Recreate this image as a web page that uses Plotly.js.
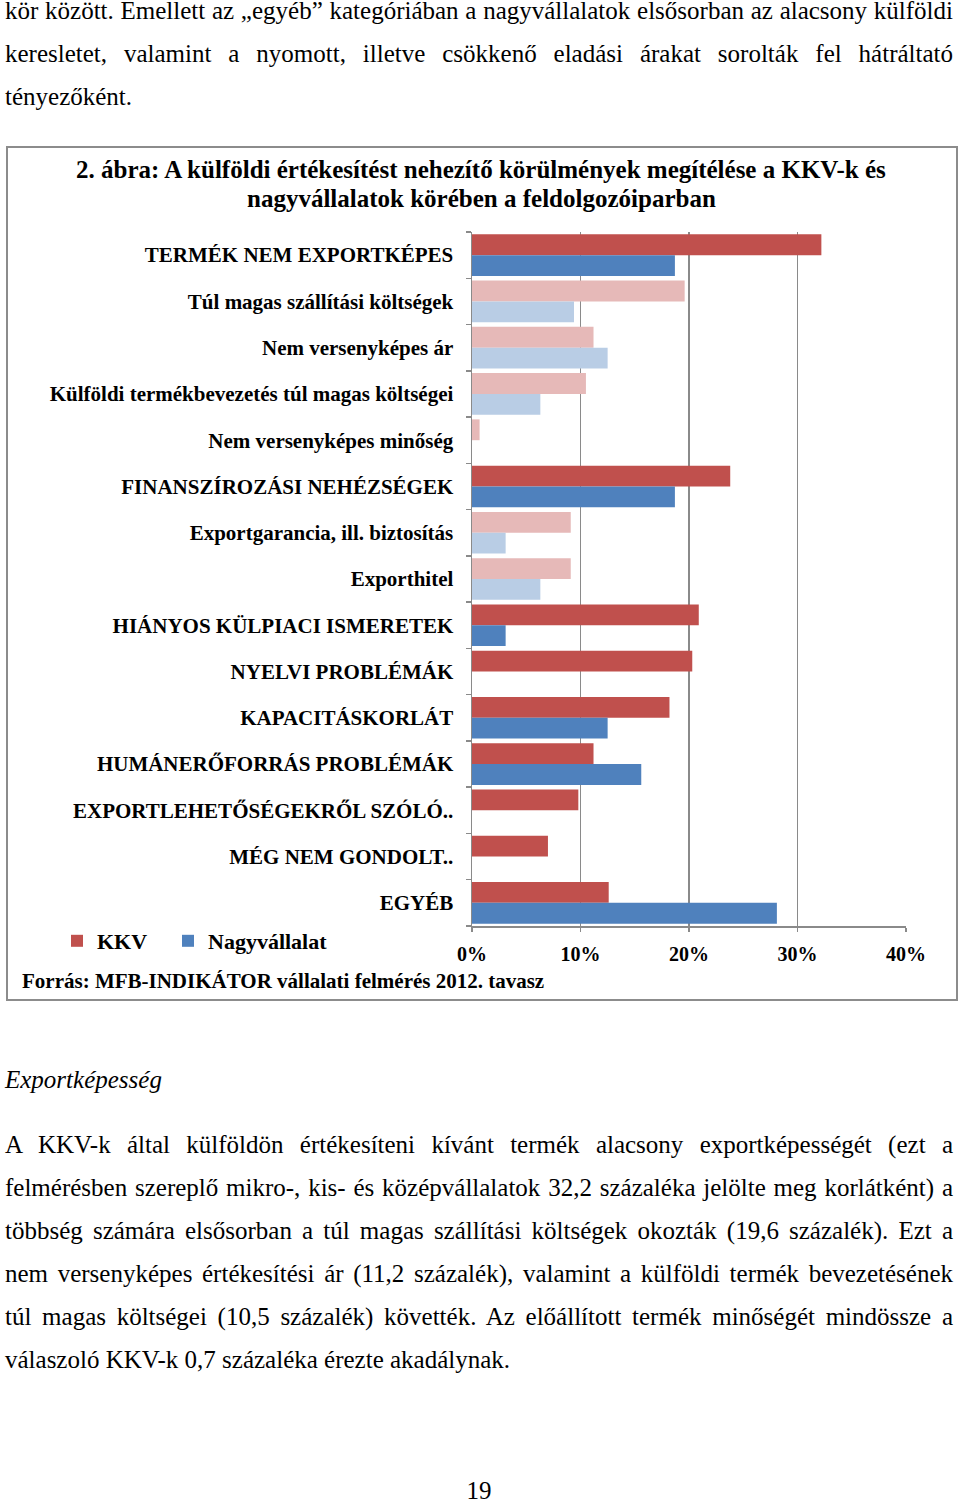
<!DOCTYPE html>
<html>
<head>
<meta charset="utf-8">
<script src="https://cdn.plot.ly/plotly-3.0.1.min.js"></script>
<style>
  html, body { margin:0; padding:0; background:#fff; }
  body { width:960px; height:1502px; position:relative; overflow:hidden; font-family:"Liberation Serif", "Times New Roman", serif; color:#000; }
  .ln { position:absolute; left:5px; width:948px; font-size:25px; line-height:30px; white-space:nowrap; }
  .j { text-align:justify; text-align-last:justify; }
  #box { position:absolute; left:6px; top:146px; width:948px; height:851px; border:2px solid #8c8c8c; }
  #chart { width:948px; height:851px; }
</style>
</head>
<body>
<div class="ln j" style="top:-4px">kör között. Emellett az „egyéb” kategóriában a nagyvállalatok elsősorban az alacsony külföldi</div>
<div class="ln j" style="top:39px">keresletet, valamint a nyomott, illetve csökkenő eladási árakat sorolták fel hátráltató</div>
<div class="ln" style="top:82px">tényezőként.</div>

<div id="box"><div id="chart"></div></div>

<div class="ln" style="top:1065px;font-style:italic">Exportképesség</div>
<div class="ln j" style="top:1130px">A KKV-k által külföldön értékesíteni kívánt termék alacsony exportképességét (ezt a</div>
<div class="ln j" style="top:1173px">felmérésben szereplő mikro-, kis- és középvállalatok 32,2 százaléka jelölte meg korlátként) a</div>
<div class="ln j" style="top:1216px">többség számára elsősorban a túl magas szállítási költségek okozták (19,6 százalék). Ezt a</div>
<div class="ln j" style="top:1259px">nem versenyképes értékesítési ár (11,2 százalék), valamint a külföldi termék bevezetésének</div>
<div class="ln j" style="top:1302px">túl magas költségei (10,5 százalék) követték. Az előállított termék minőségét mindössze a</div>
<div class="ln" style="top:1345px">válaszoló KKV-k 0,7 százaléka érezte akadálynak.</div>
<div class="ln" style="top:1476px;left:0;width:958px;text-align:center">19</div>

<script>
const categories = [
  "TERMÉK NEM EXPORTKÉPES",
  "Túl magas szállítási költségek",
  "Nem versenyképes ár",
  "Külföldi termékbevezetés túl magas költségei",
  "Nem versenyképes minőség",
  "FINANSZÍROZÁSI NEHÉZSÉGEK",
  "Exportgarancia, ill. biztosítás",
  "Exporthitel",
  "HIÁNYOS KÜLPIACI ISMERETEK",
  "NYELVI PROBLÉMÁK",
  "KAPACITÁSKORLÁT",
  "HUMÁNERŐFORRÁS PROBLÉMÁK",
  "EXPORTLEHETŐSÉGEKRŐL SZÓLÓ..",
  "MÉG NEM GONDOLT..",
  "EGYÉB"
];
const kkv  = [32.2, 19.6, 11.2, 10.5, 0.7, 23.8, 9.1, 9.1, 20.9, 20.3, 18.2, 11.2, 9.8, 7.0, 12.6];
const nagy = [18.7,  9.4, 12.5,  6.3, 0.0, 18.7, 3.1, 6.3,  3.1,  0.0, 12.5, 15.6, 0.0, 0.0, 28.1];
const isSubItem = [false, true, true, true, true, false, true, true, false, false, false, false, false, false, false];
const seriesNames = ["KKV", "Nagyvállalat"];
const xTickVals = [0, 10, 20, 30, 40];
const xTickText = ["0%", "10%", "20%", "30%", "40%"];
const titleLines = [
  "2. ábra: A külföldi értékesítést nehezítő körülmények megítélése a KKV-k és",
  "nagyvállalatok körében a feldolgozóiparban"
];
const sourceText = "Forrás: MFB-INDIKÁTOR vállalati felmérés 2012. tavasz";

const FONT = "Liberation Serif, Times New Roman, serif";
const RED = "#C0504D", RED_L = "#E6B9B8", BLUE = "#4F81BD", BLUE_L = "#B9CDE5";
const GRID = "#8a8a8a";

const W = 948, H = 851;
const M = {l: 464, r: 50, t: 84, b: 73};
const pw = W - M.l - M.r, ph = H - M.t - M.b;
const px2x = p => (p - M.l) / pw;
const px2y = p => (H - M.b - p) / ph;

const traces = [
  {
    type: "bar", orientation: "h", name: seriesNames[0], legend: "legend",
    y: categories, x: kkv,
    marker: {color: isSubItem.map(s => s ? RED_L : RED), line: {width: 0}},
    hoverinfo: "x+y"
  },
  {
    type: "bar", orientation: "h", name: seriesNames[1], legend: "legend2",
    y: categories, x: nagy,
    marker: {color: isSubItem.map(s => s ? BLUE_L : BLUE), line: {width: 0}},
    hoverinfo: "x+y"
  }
];

const legendBase = {
  orientation: "h", xanchor: "left", yanchor: "middle", y: px2y(793),
  font: {family: FONT, size: 22, color: "#000", weight: "bold"},
  itemwidth: 30, bgcolor: "rgba(0,0,0,0)"
};

const layout = {
  width: W, height: H,
  margin: M,
  paper_bgcolor: "#fff", plot_bgcolor: "#fff",
  font: {family: FONT, size: 21, color: "#000"},
  barmode: "group",
  bargap: 0.1, bargroupgap: 0,
  xaxis: {
    range: [0, 40], tickvals: xTickVals, ticktext: xTickText.map(t => "<b>" + t + "</b>"),
    showgrid: true, gridcolor: GRID, gridwidth: 1.5,
    showline: true, linecolor: GRID, linewidth: 1.5,
    ticks: "outside", ticklen: 4, tickcolor: GRID, tickwidth: 1.5,
    zeroline: false, fixedrange: true,
    tickfont: {family: FONT, size: 20, color: "#000"},
    ticklabelstandoff: 5
  },
  yaxis: {
    type: "category", autorange: "reversed",
    tickvals: categories, ticktext: categories.map(c => "<b>" + c + "</b>"),
    showline: true, linecolor: GRID, linewidth: 1.5,
    ticks: "outside", ticklen: 5, tickcolor: GRID, tickwidth: 1.5, tickson: "boundaries",
    showgrid: false, zeroline: false, fixedrange: true,
    tickfont: {family: FONT, size: 21, color: "#000"},
    ticklabelstandoff: 13
  },
  showlegend: true,
  legend: Object.assign({}, legendBase, {x: px2x(49)}),
  legend2: Object.assign({}, legendBase, {x: px2x(160)}),
  annotations: [
    {
      text: "<b>" + titleLines[0] + "</b>", xref: "paper", yref: "paper",
      x: px2x(W / 2 - 1), y: px2y(22), xanchor: "center", yanchor: "middle",
      showarrow: false, font: {family: FONT, size: 25, color: "#000"}
    },
    {
      text: "<b>" + titleLines[1] + "</b>", xref: "paper", yref: "paper",
      x: px2x(W / 2 - 1), y: px2y(50), xanchor: "center", yanchor: "middle",
      showarrow: false, font: {family: FONT, size: 25, color: "#000"}
    },
    {
      text: "<b>" + sourceText + "</b>", xref: "paper", yref: "paper",
      x: px2x(12), y: px2y(833), xanchor: "left", yanchor: "middle",
      showarrow: false, font: {family: FONT, size: 21, color: "#000"}
    }
  ]
};

Plotly.newPlot("chart", traces, layout, {displayModeBar: false, staticPlot: true});
</script>
</body>
</html>
